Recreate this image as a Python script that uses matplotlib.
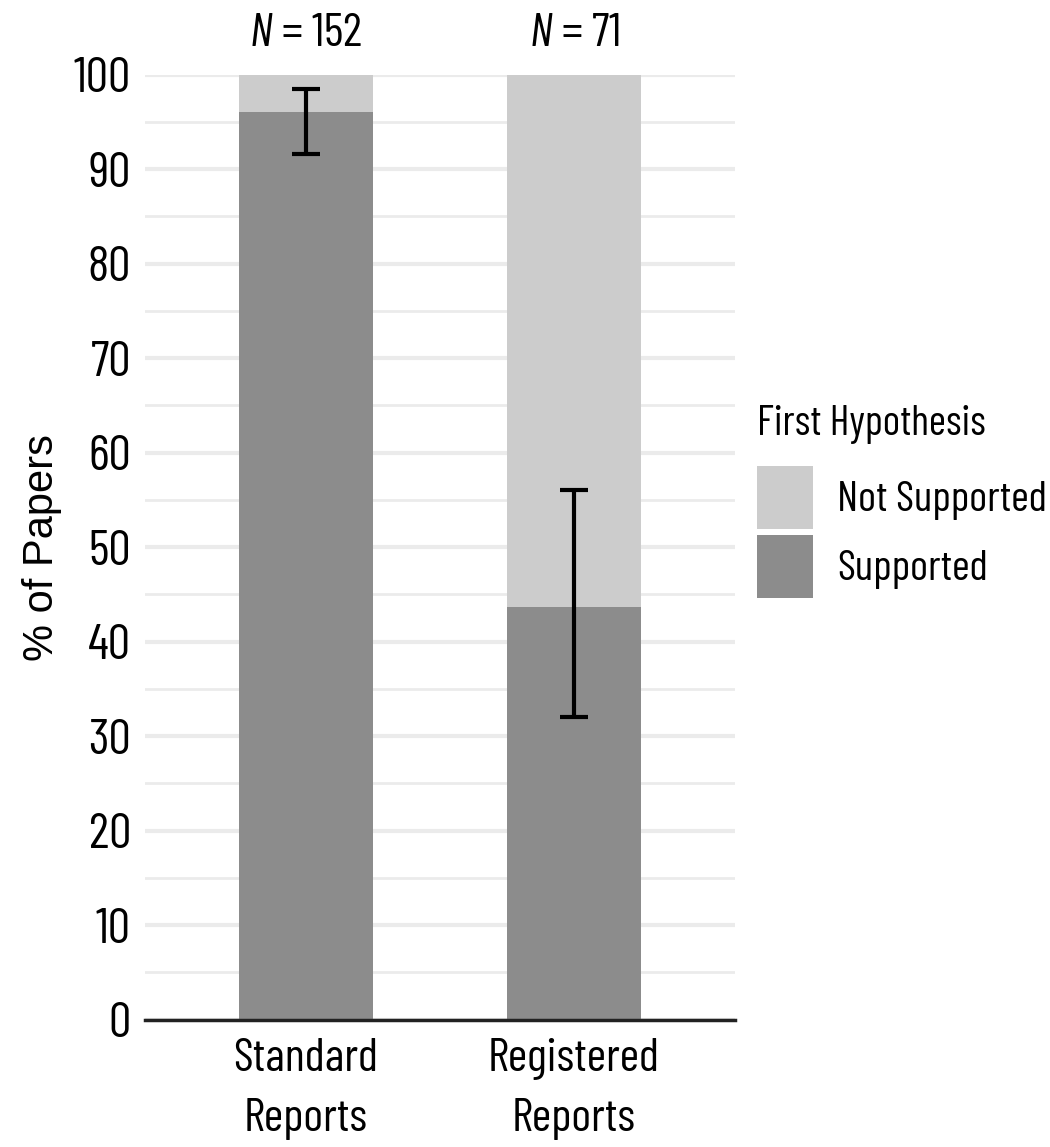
import numpy as np
import matplotlib
matplotlib.use("Agg")
import matplotlib.pyplot as plt
from matplotlib.patches import Patch

plt.rcParams['font.family'] = ['Barlow Condensed', 'Archivo Narrow', 'DejaVu Sans']
plt.rcParams['mathtext.fontset'] = 'custom'
plt.rcParams['mathtext.it'] = 'Barlow Condensed:italic'
plt.rcParams['mathtext.rm'] = 'Barlow Condensed'

# data
groups = ['Standard\nReports', 'Registered\nReports']
n_papers = [152, 71]
supported = [96.05, 43.66]
ci_low = [91.6, 32.0]
ci_high = [98.5, 56.0]
not_supported = [100 - s for s in supported]

col_sup = '#8c8c8c'
col_not = '#cccccc'

fig = plt.figure(figsize=(10.5, 11.47), dpi=100)
ax = fig.add_axes([0.138, 0.111, 0.562, 0.824])

x = np.arange(len(groups))
ax.bar(x, supported, width=0.5, color=col_sup, zorder=2)
ax.bar(x, not_supported, width=0.5, bottom=supported, color=col_not, zorder=2)

#error bars around supported share
err = [np.array(supported) - np.array(ci_low), np.array(ci_high) - np.array(supported)]
ax.errorbar(x, supported, yerr=err, fmt='none', ecolor='black', elinewidth=3,
            capsize=10, capthick=3, zorder=3)

ax.set_xlim(-0.6, 1.6)
ax.set_ylim(0, 100)
ax.set_yticks(np.arange(0, 101, 10))
ax.set_yticks(np.arange(5, 100, 10), minor=True)
ax.grid(axis='y', which='major', color='#ebebeb', linewidth=3, zorder=0)
ax.grid(axis='y', which='minor', color='#ebebeb', linewidth=2, zorder=0)
ax.set_axisbelow(True)

for s in ['top', 'right', 'left']:
    ax.spines[s].set_visible(False)
ax.spines['bottom'].set_linewidth(2.5)
ax.spines['bottom'].set_color('#222222')

ax.set_xticks(x)
ax.set_xticklabels(groups, fontsize=34, linespacing=1.55)
ax.tick_params(axis='x', length=0, pad=13)
ax.tick_params(axis='y', which='both', length=0, labelsize=36, pad=10)
ax.set_ylabel('% of Papers', fontsize=30, family='Liberation Sans')
ax.yaxis.set_label_coords(-0.141, 0.5)

for xi, n in zip(x, n_papers):
    ax.text(xi, 103.07, '$N$ = %d' % n, ha='center', va='baseline', fontsize=34,
            clip_on=False)

# legend, title drawn separately so its gap can be set
fig.text(757 / 1050, 1 - 435 / 1147, 'First Hypothesis', fontsize=30,
         ha='left', va='baseline')
handles = [Patch(facecolor=col_not, label='Not Supported'),
           Patch(facecolor=col_sup, label='Supported')]
leg = fig.legend(handles=handles, loc='upper left',
                 bbox_to_anchor=(757 / 1050, 1 - 466 / 1147), frameon=False, fontsize=31,
                 handlelength=1.3, handleheight=1.87, borderaxespad=0,
                 handletextpad=0.56, labelspacing=0.14, borderpad=0.0)

fig.savefig('out.png', dpi=100)
